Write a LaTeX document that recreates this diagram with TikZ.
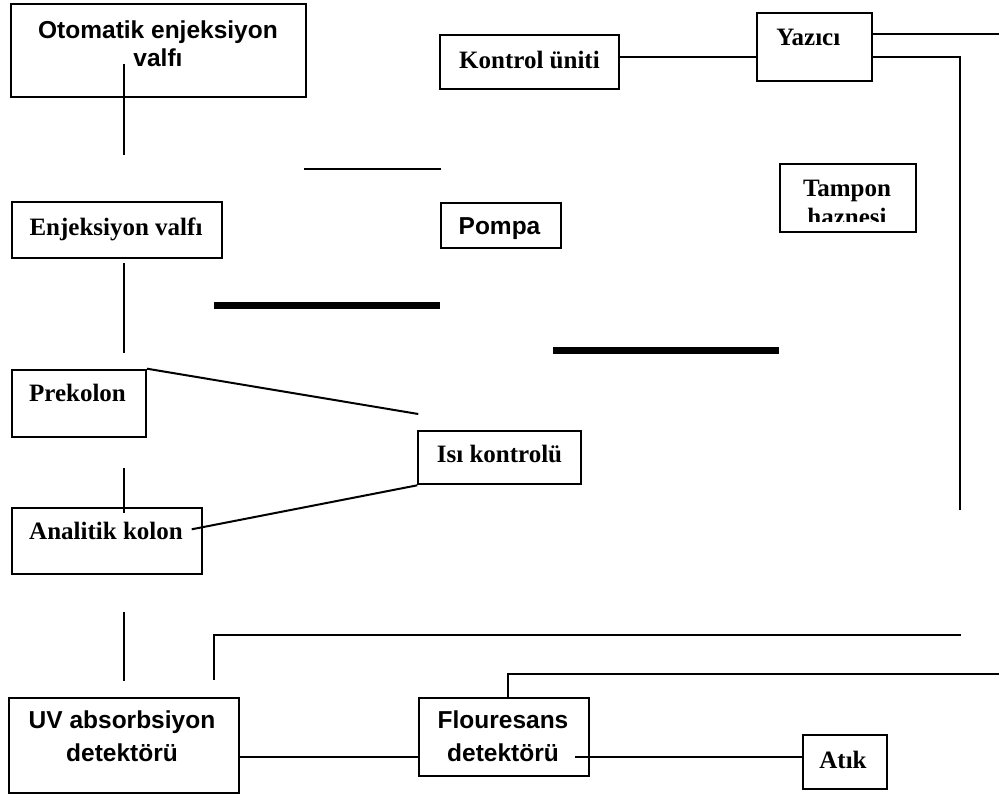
\documentclass[tikz,border=0pt]{standalone}
\usepackage{fontspec}
\setmainfont{Liberation Serif}
\setsansfont{Liberation Sans}
\usetikzlibrary{calc}
\begin{document}
\begin{tikzpicture}[x=1pt,y=-1pt,
  box/.style={draw, line width=2pt, inner sep=0pt, anchor=north west},
  ln/.style={line width=2pt},
  thick line/.style={line width=7.3pt},
  sftxt/.style={font=\fontsize{24.5}{28.4}\selectfont\sffamily\bfseries, inner sep=0pt, anchor=base, align=center},
  sfwide/.style={font=\fontsize{24.5}{33}\selectfont\sffamily\bfseries, inner sep=0pt, anchor=base, align=center},
  rmtxt/.style={font=\fontsize{25}{28.4}\selectfont\rmfamily\bfseries, inner sep=0pt, anchor=base, align=center}]
\useasboundingbox (0,0) rectangle (999,795);
\fill[white] (0,0) rectangle (999,795);

% boxes
\node[box, minimum width=295pt, minimum height=93pt] (oto) at (10,3) {};
\node[box, minimum width=210pt, minimum height=56pt] (enj) at (11,201) {};
\node[box, minimum width=179pt, minimum height=54pt] (kon) at (439,34) {};
\node[box, minimum width=114.7pt, minimum height=67.7pt] (yaz) at (756,12.3) {};
\node[box, minimum width=136pt, minimum height=67.7pt] (tam) at (779,163.3) {};
\node[box, minimum width=120pt, minimum height=45.6pt] (pom) at (440,201.7) {};
\node[box, minimum width=134.3pt, minimum height=67.3pt] (pre) at (10.7,368.7) {};
\node[box, minimum width=162.7pt, minimum height=53.3pt] (isi) at (417.3,430) {};
\node[box, minimum width=190.6pt, minimum height=66.6pt] (ana) at (10.7,506.7) {};
\node[box, minimum width=230pt, minimum height=95.3pt] (uv) at (8,696.7) {};
\node[box, minimum width=170pt, minimum height=78.3pt] (flo) at (417.7,696.7) {};
\node[box, minimum width=84pt, minimum height=54pt] (atk) at (801.7,734.3) {};

% texts (anchor=base is the baseline of the last line)
\node[sftxt] (otoT) at (158,66.7) {Otomatik enjeksiyon\\valfı};
\node[rmtxt] (enjT) at (116,235) {Enjeksiyon valfı};
\node[rmtxt] (konT) at (529.5,68.3) {Kontrol üniti};
\node[rmtxt] (yazT) at (808.3,45) {Yazıcı};
\begin{scope}
  \clip (779,163.3) rectangle (915,221.7);
  \node[rmtxt] (tamT) at (847,225.1) {Tampon\\haznesi};
\end{scope}
\node[sftxt] (pomT) at (499.5,234) {Pompa};
\node[rmtxt] (preT) at (77.5,401.7) {Prekolon};
\node[rmtxt] (isiT) at (499.5,462.7) {Isı kontrolü};
\node[rmtxt] (anaT) at (106,539.3) {Analitik kolon};
\node[sfwide] (uvT) at (122,761.3) {UV absorbsiyon\\detektörü};
\node[sfwide] (floT) at (503,761.3) {Flouresans\\detektörü};
\node[rmtxt] (atkT) at (843,768.3) {Atık};

% free ends
\coordinate (a1) at (124,64);
\coordinate (a2) at (124,155);
\coordinate (b1) at (304,169.3);
\coordinate (b2) at (440.7,169.3);
\coordinate (c1) at (124,263);
\coordinate (c2) at (124,353);
\coordinate (t1) at (214,305.7);
\coordinate (t2) at (440,305.7);
\coordinate (t3) at (553.3,350.3);
\coordinate (t4) at (779.3,350.3);
\coordinate (p1) at (418.3,414);
\coordinate (d1) at (124,467.7);
\coordinate (d2) at (124,513.3);
\coordinate (e1) at (191.7,529.3);
\coordinate (f1) at (124,612);
\coordinate (f2) at (124,680.7);
\coordinate (g1) at (214,680);
\coordinate (g2) at (214,635);
\coordinate (g3) at (961,635);
\coordinate (h1) at (508.3,673.5);
\coordinate (h2) at (999,673.5);
\coordinate (i1) at (575,757.3);
\coordinate (uvy) at (0,756.7);
\coordinate (yz1) at (999,34);
\coordinate (yz2) at (959.5,57.3);
\coordinate (yz3) at (959.5,510);

% connectors
\draw[ln] (a1) -- (a2);
\draw[ln] (b1) -- (b2);
\draw[ln] (c1) -- (c2);
\draw[thick line] (t1) -- (t2);
\draw[thick line] (t3) -- (t4);
\draw[ln] (pre.north east) -- (p1);
\draw[ln] (d1) -- (d2);
\draw[ln] (e1) -- (isi.south west);
\draw[ln] (f1) -- (f2);
\draw[ln] (g1) -- (g2) -- (g3);
\draw[ln] (h1 |- flo.north) -- (h1) -- (h2);
\draw[ln] (uv.east |- uvy) -- (flo.west |- uvy);
\draw[ln] (i1) -- (atk.west |- i1);
\draw[ln] (kon.east |- yz2) -- (yaz.west |- yz2);
\draw[ln] (yaz.east |- yz1) -- (yz1);
\draw[ln] (yaz.east |- yz2) -- (yz2) -- (yz3);
\end{tikzpicture}
\end{document}
